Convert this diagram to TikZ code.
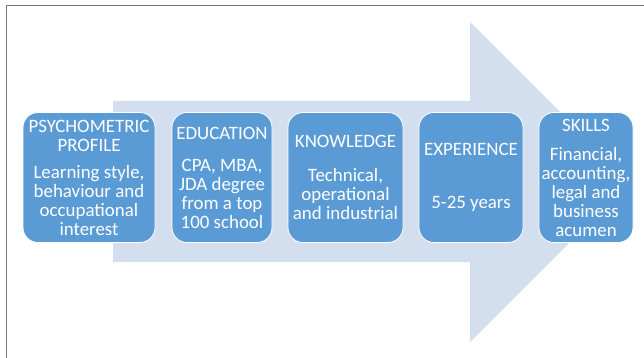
\documentclass[tikz,border=0pt]{standalone}
\usepackage{fontspec}
\setmainfont{Carlito}
\usepackage{tikz}
\definecolor{arrowblue}{RGB}{211,223,238}
\definecolor{stageblue}{RGB}{91,155,213}
\definecolor{framegray}{RGB}{120,120,120}

\begin{document}
\begin{tikzpicture}[x=1pt,y=-1pt,
    stagebox/.style={draw=white, line width=.8pt, fill=stageblue,
      rounded corners=15pt, text=white, align=center, inner sep=1pt,
      minimum height=130pt,
      font=\fontsize{18.9}{19}\selectfont}
  ]
  \useasboundingbox (0,0) rectangle (644,358);
  % Frame on the top and the left
  \draw[framegray, line width=1.6pt] (6.5,358) -- (6.5,5.5) -- (644,5.5);

  % Corners of the big arrow behind the boxes
  \coordinate (tail top) at (113,101);
  \coordinate (tail bottom) at (113,262);
  \coordinate (tip) at (630,182);
  \pgfmathsetmacro{\headx}{470}
  \fill[arrowblue] (tail top) -- (\headx,101) -- (\headx,22) -- (tip)
    -- (\headx,342) -- (\headx,262) -- (tail bottom) -- cycle;

  % The five stages, each with its heading, gap and text
  \foreach \name/\x/\w/\head/\gap/\body in {
      psy/89/132/{PSYCHOMETRIC\\PROFILE}/8/{Learning style,\\behaviour and\\occupational\\interest},
      edu/222/100/{EDUCATION}/13/{CPA, MBA,\\JDA degree\\from a top\\100 school},
      know/345.5/115/{KNOWLEDGE}/15/{Technical,\\operational\\and industrial},
      exp/471/104/{EXPERIENCE}/34/{5-25 years},
      skill/586/94/{SKILLS}/10/{Financial,\\accounting,\\legal and\\business\\acumen}} {
    \node[stagebox, minimum width=\w pt] (\name) at (\x,177.5)
      {\head\\[\gap pt]\body};
  }
\end{tikzpicture}
\end{document}
